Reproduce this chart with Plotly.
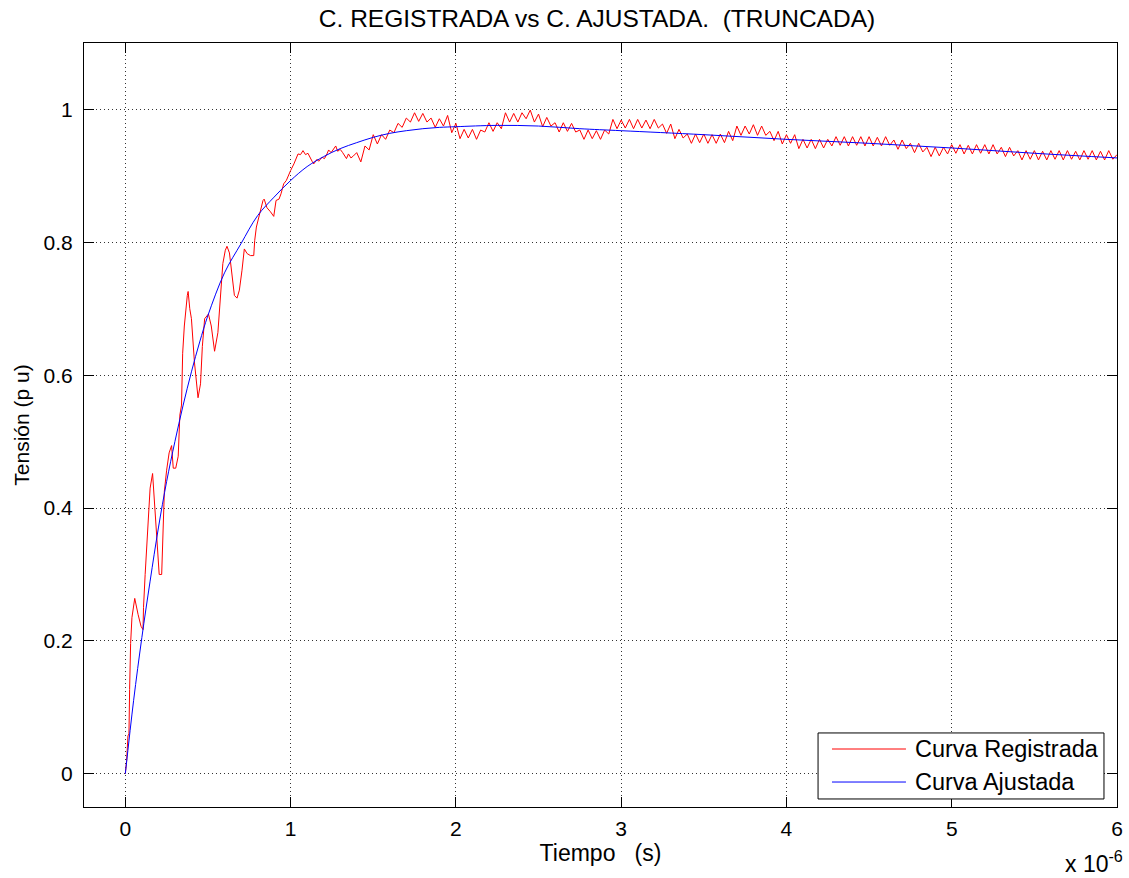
import plotly.graph_objects as go

# --- Recorded voltage (p.u.) : detailed start of the front, time in microseconds
t_reg_front = [0.000, 0.008, 0.016, 0.022, 0.026, 0.032, 0.040, 0.057, 0.077, 0.095,
               0.107, 0.110, 0.120, 0.130, 0.140, 0.150, 0.165, 0.178, 0.190, 0.205,
               0.220, 0.225, 0.236, 0.250, 0.265, 0.280, 0.290, 0.305, 0.320, 0.330,
               0.340, 0.347, 0.357, 0.375, 0.380, 0.390, 0.400, 0.418, 0.435, 0.440,
               0.455, 0.466, 0.480, 0.503, 0.520, 0.540, 0.560, 0.575, 0.590, 0.605,
               0.615, 0.630, 0.645, 0.660, 0.676, 0.690, 0.706, 0.720, 0.737, 0.757,
               0.777, 0.783, 0.793, 0.807, 0.833, 0.840, 0.857, 0.878, 0.898, 0.912,
               0.930, 0.942, 0.958, 0.974, 0.989, 1.000, 1.020, 1.035, 1.045, 1.060,
               1.075, 1.090, 1.105, 1.130, 1.140, 1.160, 1.170, 1.190, 1.205, 1.220,
               1.230, 1.245, 1.257, 1.273, 1.285, 1.300, 1.315, 1.338, 1.350, 1.365,
               1.380]
v_reg_front = [0.000, 0.020, 0.057, 0.060, 0.127, 0.196, 0.235, 0.264, 0.240, 0.222,
               0.217, 0.250, 0.300, 0.340, 0.377, 0.430, 0.452, 0.400, 0.360, 0.300,
               0.300, 0.340, 0.425, 0.457, 0.483, 0.494, 0.460, 0.460, 0.478, 0.540,
               0.555, 0.633, 0.674, 0.720, 0.726, 0.700, 0.685, 0.620, 0.570, 0.566,
               0.587, 0.643, 0.685, 0.692, 0.674, 0.636, 0.664, 0.720, 0.768, 0.788,
               0.794, 0.784, 0.748, 0.720, 0.716, 0.728, 0.758, 0.790, 0.783, 0.780,
               0.780, 0.803, 0.823, 0.838, 0.863, 0.865, 0.852, 0.846, 0.839, 0.863,
               0.865, 0.873, 0.888, 0.893, 0.903, 0.908, 0.918, 0.928, 0.933, 0.932,
               0.938, 0.932, 0.934, 0.922, 0.918, 0.925, 0.922, 0.928, 0.926, 0.933,
               0.939, 0.935, 0.939, 0.945, 0.937, 0.940, 0.935, 0.926, 0.933, 0.927,
               0.930]

# --- Recorded voltage (p.u.) : tail, sampled every 0.025 us from 1.4 us to 6 us
tail_start = 1.4
tail_step = 0.025
v_reg_tail = [
    0.935, 0.921, 0.945, 0.939, 0.962, 0.948, 0.962, 0.955, 0.969, 0.965,
    0.979, 0.973, 0.987, 0.981, 0.995, 0.982, 0.994, 0.981, 0.987, 0.973,
    0.986, 0.975, 0.991, 0.965, 0.979, 0.956, 0.970, 0.957, 0.970, 0.955,
    0.969, 0.966, 0.980, 0.967, 0.980, 0.971, 0.995, 0.981, 0.994, 0.981,
    0.995, 0.986, 0.999, 0.981, 0.993, 0.974, 0.988, 0.975, 0.980, 0.966,
    0.980, 0.967, 0.979, 0.966, 0.969, 0.955, 0.969, 0.956, 0.968, 0.955,
    0.969, 0.963, 0.985, 0.971, 0.984, 0.972, 0.985, 0.971, 0.985, 0.972,
    0.984, 0.971, 0.985, 0.972, 0.978, 0.964, 0.978, 0.956, 0.970, 0.957,
    0.963, 0.949, 0.963, 0.950, 0.963, 0.949, 0.962, 0.949, 0.963, 0.950,
    0.967, 0.953, 0.975, 0.961, 0.975, 0.963, 0.977, 0.961, 0.975, 0.961,
    0.967, 0.953, 0.967, 0.948, 0.962, 0.949, 0.962, 0.941, 0.955, 0.942,
    0.955, 0.941, 0.955, 0.942, 0.955, 0.945, 0.959, 0.946, 0.959, 0.945,
    0.959, 0.946, 0.959, 0.945, 0.959, 0.945, 0.958, 0.945, 0.959, 0.946,
    0.954, 0.940, 0.954, 0.941, 0.949, 0.935, 0.949, 0.936, 0.943, 0.929,
    0.943, 0.930, 0.943, 0.933, 0.947, 0.934, 0.947, 0.933, 0.946, 0.933,
    0.947, 0.934, 0.947, 0.933, 0.947, 0.933, 0.943, 0.929, 0.943, 0.930,
    0.938, 0.924, 0.938, 0.925, 0.938, 0.924, 0.937, 0.924, 0.938, 0.925,
    0.938, 0.924, 0.938, 0.925, 0.937, 0.924, 0.938, 0.925, 0.938, 0.924,
    0.937, 0.924, 0.938, 0.925, 0.932]
t_reg_tail = [round(tail_start + i * tail_step, 3) for i in range(len(v_reg_tail))]

t_reg = t_reg_front + t_reg_tail
v_reg = v_reg_front + v_reg_tail

# --- Fitted curve (p.u.), time in microseconds
t_fit = [0.0, 0.05, 0.1, 0.15, 0.2, 0.25, 0.3, 0.35, 0.4, 0.45, 0.5, 0.6, 0.7, 0.8,
         0.9, 1.0, 1.1, 1.2, 1.3, 1.4, 1.5, 1.6, 1.7, 1.8, 1.9, 2.0, 2.25, 2.5,
         2.75, 3.0, 3.5, 4.0, 4.5, 5.0, 5.5, 6.0]
v_fit = [0.000, 0.110, 0.205, 0.290, 0.370, 0.440, 0.500, 0.555, 0.605, 0.650,
         0.690, 0.754, 0.798, 0.840, 0.868, 0.893, 0.914, 0.929, 0.941, 0.950,
         0.958, 0.964, 0.968, 0.971, 0.973, 0.974, 0.976, 0.975, 0.971, 0.968,
         0.962, 0.955, 0.949, 0.942, 0.934, 0.927]

x_ticks = [0, 1, 2, 3, 4, 5, 6]
y_ticks = [0, 0.2, 0.4, 0.6, 0.8, 1.0]
y_tick_text = ["0", "0.2", "0.4", "0.6", "0.8", "1"]

FONT = "Liberation Sans, Arial, sans-serif"

fig = go.Figure()
fig.add_trace(go.Scatter(x=t_reg, y=v_reg, mode="lines", name="Curva Registrada",
                         line=dict(color="#ff0000", width=1)))
fig.add_trace(go.Scatter(x=t_fit, y=v_fit, mode="lines", name="Curva Ajustada",
                         line=dict(color="#0000ff", width=1), line_shape="spline"))

axis_common = dict(showline=True, linecolor="black", linewidth=1, mirror="allticks",
                   ticks="inside", ticklen=10, tickcolor="black", tickwidth=1,
                   showgrid=True, gridcolor="#333333", griddash="1px,3px", gridwidth=1,
                   zeroline=False, automargin=False,
                   tickfont=dict(family=FONT, size=21, color="black"))

fig.update_xaxes(range=[-0.25, 6], tickvals=x_ticks, ticktext=[str(v) for v in x_ticks],
                 title=dict(text="Tiempo   (s)", font=dict(family=FONT, size=23, color="black"),
                            standoff=5),
                 ticklabelstandoff=3, **axis_common)
fig.update_yaxes(range=[-0.05, 1.1], tickvals=y_ticks, ticktext=y_tick_text,
                 title=dict(text="Tensión (p u)", font=dict(family=FONT, size=21, color="black"),
                            standoff=8),
                 ticklabelstandoff=6, **axis_common)

# legend box drawn in the lower right corner of the axes
leg_x0, leg_x1, leg_y0, leg_y1 = 0.7106, 0.9874, 0.0105, 0.0969
fig.add_shape(type="rect", xref="paper", yref="paper", x0=leg_x0, x1=leg_x1,
              y0=leg_y0, y1=leg_y1, line=dict(color="black", width=1), fillcolor="white",
              layer="above")
legend_rows = [("Curva Registrada", "#ff0000", 0.0759), ("Curva Ajustada", "#0000ff", 0.0327)]
for label, color, yy in legend_rows:
    fig.add_shape(type="line", xref="paper", yref="paper", x0=0.7241, x1=0.7957,
                  y0=yy, y1=yy, line=dict(color=color, width=1), layer="above")
    fig.add_annotation(xref="paper", yref="paper", x=0.8025, y=yy, text=label,
                       showarrow=False, xanchor="left", yanchor="middle",
                       font=dict(family=FONT, size=23.5, color="black"))

# exponent of the time axis
fig.add_annotation(xref="paper", yref="paper", x=1.0077, y=-0.072, text="x 10<sup>-6</sup>",
                   showarrow=False, xanchor="right", yanchor="middle",
                   font=dict(family=FONT, size=23, color="black"))

fig.update_layout(
    width=1129, height=878,
    margin=dict(l=84, r=12, t=43, b=71, autoexpand=False),
    paper_bgcolor="white", plot_bgcolor="white",
    showlegend=False,
    title=dict(text="C. REGISTRADA vs C. AJUSTADA.  (TRUNCADA)", x=0.5288, xanchor="center",
               y=0.979, yanchor="middle", font=dict(family=FONT, size=24.5, color="black")),
)

fig.write_html("out.html")
